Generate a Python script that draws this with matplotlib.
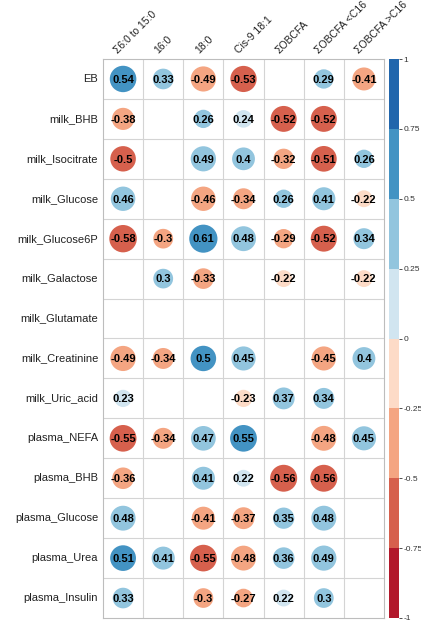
import numpy as np
import matplotlib.pyplot as plt
from matplotlib.patches import Circle
from matplotlib.colors import ListedColormap, BoundaryNorm
import matplotlib as mpl

plt.rcParams['font.family'] = ['Liberation Sans', 'DejaVu Sans']

nan = np.nan

cols = ['Σ6:0 to 15:0', '16:0', '18:0', 'Cis-9 18:1', 'ΣOBCFA', 'ΣOBCFA <C16', 'ΣOBCFA >C16']
rows = ['EB', 'milk_BHB', 'milk_Isocitrate', 'milk_Glucose', 'milk_Glucose6P',
        'milk_Galactose', 'milk_Glutamate', 'milk_Creatinine', 'milk_Uric_acid',
        'plasma_NEFA', 'plasma_BHB', 'plasma_Glucose', 'plasma_Urea', 'plasma_Insulin']

# blank cells = not significant
r_eb = [0.54, 0.33, -0.49, -0.53, nan, 0.29, -0.41]
r_milk_bhb = [-0.38, nan, 0.26, 0.24, -0.52, -0.52, nan]
r_milk_isocitrate = [-0.5, nan, 0.49, 0.4, -0.32, -0.51, 0.26]
r_milk_glucose = [0.46, nan, -0.46, -0.34, 0.26, 0.41, -0.22]
r_milk_glucose6p = [-0.58, -0.3, 0.61, 0.48, -0.29, -0.52, 0.34]
r_milk_galactose = [nan, 0.3, -0.33, nan, -0.22, nan, -0.22]
r_milk_glutamate = [nan, nan, nan, nan, nan, nan, nan]
r_milk_creatinine = [-0.49, -0.34, 0.5, 0.45, nan, -0.45, 0.4]
r_milk_uric = [0.23, nan, nan, -0.23, 0.37, 0.34, nan]
r_plasma_nefa = [-0.55, -0.34, 0.47, 0.55, nan, -0.48, 0.45]
r_plasma_bhb = [-0.36, nan, 0.41, 0.22, -0.56, -0.56, nan]
r_plasma_glucose = [0.48, nan, -0.41, -0.37, 0.35, 0.48, nan]
r_plasma_urea = [0.51, 0.41, -0.55, -0.48, 0.36, 0.49, nan]
r_plasma_insulin = [0.33, nan, -0.3, -0.27, 0.22, 0.3, nan]

corr = np.array([r_eb, r_milk_bhb, r_milk_isocitrate, r_milk_glucose, r_milk_glucose6p,
                 r_milk_galactose, r_milk_glutamate, r_milk_creatinine, r_milk_uric,
                 r_plasma_nefa, r_plasma_bhb, r_plasma_glucose, r_plasma_urea, r_plasma_insulin])

# 8-class RdBu
blues = ['#D1E5F0', '#92C5DE', '#4393C3', '#2166AC']
reds = ['#FDDBC7', '#F4A582', '#D6604D', '#B2182B']


def cell_color(r):
    k = min(int(abs(r) / 0.25 + 1e-9), 3)
    return blues[k] if r > 0 else reds[k]


nr, nc = corr.shape
fig = plt.figure(figsize=(4.21, 6.23), dpi=100)
ax = fig.add_axes([103 / 421, 5 / 623, 281 / 421, 559 / 623])
ax.set_xlim(0, nc)
ax.set_ylim(nr, 0)
ax.set_xticks([])
ax.set_yticks([])
for s in ax.spines.values():
    s.set_color('#bdbdbd')
    s.set_linewidth(0.8)

for i in range(1, nc):
    ax.axvline(i, color='#d4d4d4', lw=0.8)
for j in range(1, nr):
    ax.axhline(j, color='#d4d4d4', lw=0.8)

for j in range(nr):
    for i in range(nc):
        r = corr[j, i]
        if np.isnan(r):
            continue
        rad = 0.45 * np.sqrt(abs(r))
        ax.add_patch(Circle((i + 0.5, j + 0.5), rad, facecolor=cell_color(r), edgecolor='none'))
        ax.text(i + 0.5, j + 0.52, f'{r:g}', ha='center', va='center',
                fontsize=8, fontweight='bold', color='black')

for j, name in enumerate(rows):
    ax.text(-0.12, j + 0.5, name, ha='right', va='center', fontsize=8, color='#222222')

for i, name in enumerate(cols):
    ax.text(i + 0.42, -0.1, name, ha='left', va='bottom', rotation=45,
            rotation_mode='anchor', fontsize=7.5, color='#222222')

# colour bar
cax = fig.add_axes([389 / 421, 5 / 623, 10 / 421, 559 / 623])
bounds = np.linspace(-1, 1, 9)
cmap = ListedColormap(reds[::-1] + blues)
norm = BoundaryNorm(bounds, cmap.N)
cb = mpl.colorbar.ColorbarBase(cax, cmap=cmap, norm=norm, ticks=bounds)
cb.outline.set_visible(False)
cb.set_ticklabels(['-1', '-0.75', '-0.5', '-0.25', '0', '0.25', '0.5', '0.75', '1'])
cax.tick_params(labelsize=6, length=2, width=0.6, colors='#333333', pad=1)

fig.savefig('out.png', dpi=100)
